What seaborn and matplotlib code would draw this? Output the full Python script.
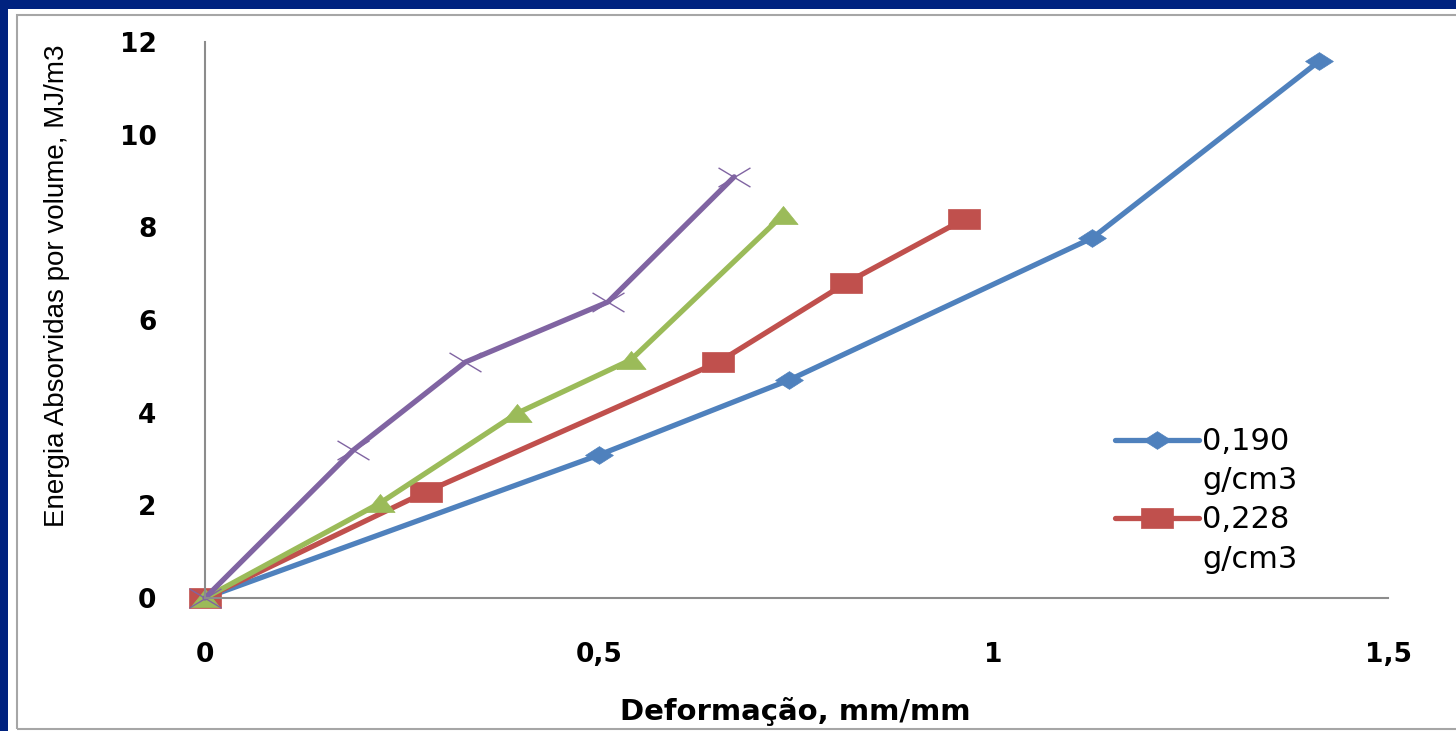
import pandas as pd
import matplotlib
matplotlib.use("Agg")
import matplotlib.pyplot as plt
import matplotlib.patches as patches
from matplotlib.lines import Line2D
from matplotlib.path import Path
import seaborn as sns

# ==========================================
# DATA
# ==========================================

x_190 = [0, 0.50, 0.74, 1.125, 1.413]
y_190 = [0, 3.09, 4.70, 7.77, 11.59]

x_228 = [0, 0.28, 0.651, 0.813, 0.963]
y_228 = [0, 2.29, 5.09, 6.80, 8.18]

x_green = [0, 0.222, 0.396, 0.540, 0.733]
y_green = [0, 2.05, 3.99, 5.14, 8.27]

x_purple = [0, 0.188, 0.330, 0.511, 0.671]
y_purple = [0, 3.19, 5.09, 6.39, 9.09]

legend_labels = ["0,190", "g/cm3", "0,228", "g/cm3"]

x_ticks = [0, 0.5, 1, 1.5]
x_tick_labels = ["0", "0,5", "1", "1,5"]
y_ticks = [0, 2, 4, 6, 8, 10, 12]

# ==========================================
# STYLE
# ==========================================

sns.set_style("white")
plt.rcParams["font.family"] = ["DejaVu Sans"]
plt.rcParams["text.color"] = "black"
plt.rcParams["xtick.color"] = "black"
plt.rcParams["ytick.color"] = "black"

BLUE = "#4F81BD"
RED = "#C0504D"
GREEN = "#9BBB59"
PURPLE = "#8064A2"
NAVY = "#00227F"
GRAY = "#8C8C8C"

# markers of the original are squashed (wider than tall)
DIAMOND = [(-1, 0), (0, 0.64), (1, 0), (0, -0.64), (-1, 0)]
SQUARE = [(-1, -0.6), (1, -0.6), (1, 0.6), (-1, 0.6), (-1, -0.6)]
TRIANGLE = [(-1, -0.62), (1, -0.62), (0, 0.62), (-1, -0.62)]
CROSS = Path(
    [(-1, -0.6), (1, 0.6), (-1, 0.6), (1, -0.6)],
    [Path.MOVETO, Path.LINETO, Path.MOVETO, Path.LINETO],
)

fig = plt.figure(figsize=(14.56, 7.31), dpi=100)
fig.patch.set_facecolor(NAVY)

# white slide panel + thin chart frame (behind the axes)
fig.patches.append(patches.Rectangle(
    (8 / 1456, 0), 1, 1 - 9 / 731,
    transform=fig.transFigure, facecolor="white", edgecolor="none", zorder=-2
))
fig.patches.append(patches.Rectangle(
    (17 / 1456, 2 / 731), 1.0, 1 - 17 / 731,
    transform=fig.transFigure, facecolor="none", edgecolor="#A6A6A6",
    linewidth=1.5, zorder=-1
))

ax = fig.add_axes([205 / 1456, 1 - 598 / 731, (1388 - 205) / 1456, (598 - 42) / 731])
ax.set_facecolor("none")

series = [
    (x_190, y_190, BLUE, DIAMOND, 20, 0.5),
    (x_228, y_228, RED, SQUARE, 23, 0.5),
    (x_green, y_green, GREEN, TRIANGLE, 21, 0.5),
    (x_purple, y_purple, PURPLE, CROSS, 23, 1.0),
]

for xs, ys, color, marker, msize, mew in series:
    df = pd.DataFrame({"x": xs, "y": ys})
    sns.lineplot(
        data=df, x="x", y="y", ax=ax, sort=False,
        color=color, linewidth=3.8, marker=marker,
        markersize=msize, markeredgewidth=mew,
        markeredgecolor=color, clip_on=False
    )

ax.set_xlim(0, 1.5)
ax.set_ylim(0, 12)
ax.set_xticks(x_ticks)
ax.set_xticklabels(x_tick_labels)
ax.set_yticks(y_ticks)

ax.tick_params(axis="both", length=0, labelsize=19)
ax.tick_params(axis="x", pad=32)
ax.tick_params(axis="y", pad=35)
for lab in ax.get_xticklabels() + ax.get_yticklabels():
    lab.set_fontweight("bold")

sns.despine(ax=ax)
for side in ["left", "bottom"]:
    ax.spines[side].set_color(GRAY)
    ax.spines[side].set_linewidth(1.5)

ax.set_xlabel("")
ax.set_ylabel("")

fig.text(795 / 1456, 1 - 711 / 731, "Deformação, mm/mm",
         ha="center", va="center", fontsize=21, fontweight="bold")
fig.text(57 / 1456, 1 - 286 / 731, "Energia Absorvidas por volume, MJ/m3",
         ha="center", va="center", rotation=90, fontsize=20,
         family=["Liberation Sans Narrow", "Liberation Sans", "DejaVu Sans"])

# ==========================================
# LEGEND
# ==========================================

blank = Line2D([], [], linestyle="none")
handles = [
    Line2D([], [], color=BLUE, linewidth=3.8, marker=DIAMOND,
           markersize=20, markeredgewidth=0.5),
    blank,
    Line2D([], [], color=RED, linewidth=3.8, marker=SQUARE,
           markersize=23, markeredgewidth=0.5),
    blank,
]

fig.legend(
    handles, legend_labels,
    loc="upper left", bbox_to_anchor=(1100 / 1456, 1 - 412 / 731),
    frameon=False, fontsize=22, handlelength=2.75, handletextpad=0.1,
    labelspacing=0.33, borderpad=0
)

plt.savefig("out.png", dpi=100, facecolor=fig.get_facecolor())
plt.close()
